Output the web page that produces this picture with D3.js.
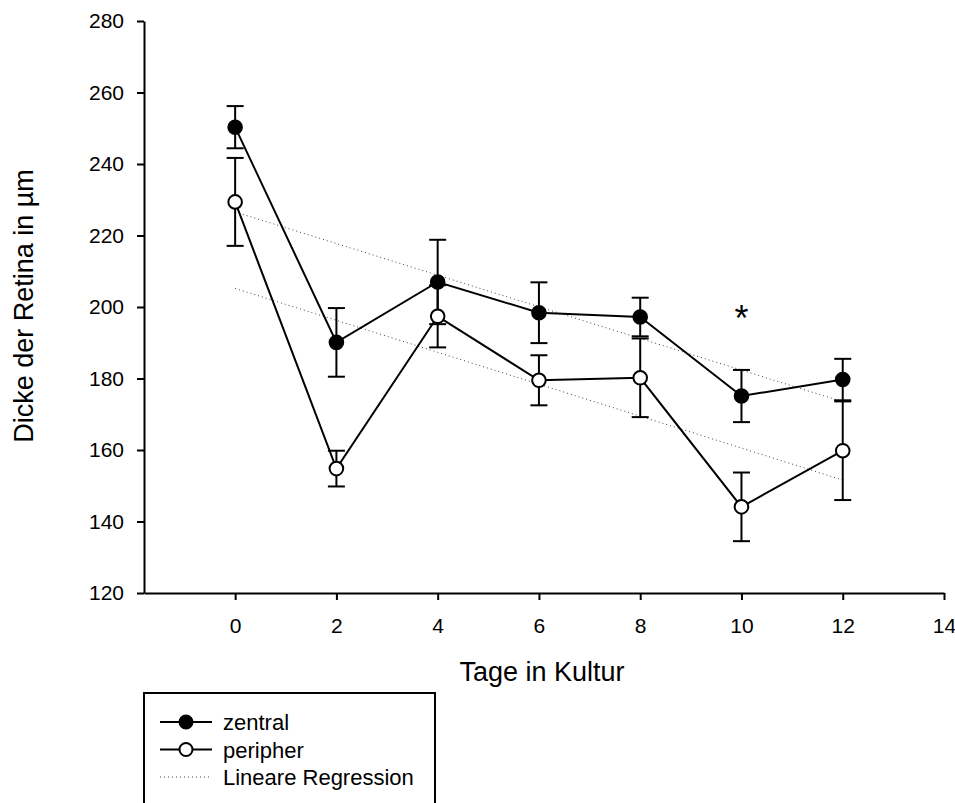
<!DOCTYPE html>
<html>
<head>
<meta charset="utf-8">
<script src="https://cdn.jsdelivr.net/npm/d3@7"></script>
<style>
body { margin: 0; background: #fff; }
text { font-family: "Liberation Sans", Arial, sans-serif; fill: #000; }
</style>
</head>
<body>
<script>
var width = 955;
var height = 803;

// values
var days = [0, 2, 4, 6, 8, 10, 12];
var zentral = [250.3, 190.1, 207.0, 198.4, 197.2, 175.1, 179.7];
var zentralErr = [5.9, 9.6, 11.8, 8.5, 5.4, 7.3, 5.8];
var peripher = [229.4, 154.8, 197.4, 179.5, 180.2, 144.1, 159.8];
var peripherErr = [12.3, 5.0, 8.7, 7.0, 11.0, 9.6, 13.8];
// regression lines, start (day 0) and end (day 12)
var regDays = [0, 12];
var regZentral = [226.6, 173.5];
var regPeripher = [205.2, 151.6];
var xTicks = [0, 2, 4, 6, 8, 10, 12, 14];
var yTicks = [120, 140, 160, 180, 200, 220, 240, 260, 280];
var starDay = 10, starValue = 199.3;

var svg = d3.select("body").append("svg")
    .attr("width", width)
    .attr("height", height);

var x = d3.scaleLinear().domain([-1.8, 14]).range([144, 944]);
var y = d3.scaleLinear().domain([120, 280]).range([593, 21]);

// axes
var xAxis = svg.append("g")
    .attr("transform", "translate(0,593)")
    .call(d3.axisBottom(x).tickValues(xTicks).tickSize(7).tickSizeOuter(0).tickPadding(18));
var yAxis = svg.append("g")
    .attr("transform", "translate(144,0)")
    .call(d3.axisLeft(y).tickValues(yTicks).tickSize(7).tickSizeOuter(0).tickPadding(13));

[xAxis, yAxis].forEach(function(a) {
    a.selectAll("path, line").attr("stroke", "#000").attr("stroke-width", 2);
    a.selectAll("text").style("font-size", "21px").attr("fill", "#000");
});

svg.append("text")
    .attr("x", 542).attr("y", 681)
    .attr("text-anchor", "middle")
    .style("font-size", "27px")
    .text("Tage in Kultur");

svg.append("text")
    .attr("transform", "translate(33,306) rotate(-90)")
    .attr("text-anchor", "middle")
    .style("font-size", "27px")
    .text("Dicke der Retina in µm");

// regression lines
[regZentral, regPeripher].forEach(function(r) {
    svg.append("path")
        .datum(regDays.map(function(d, i) { return [d, r[i]]; }))
        .attr("fill", "none")
        .attr("stroke", "#444")
        .attr("stroke-width", 1)
        .attr("stroke-dasharray", "1,3")
        .attr("d", d3.line().x(function(d) { return x(d[0]); }).y(function(d) { return y(d[1]); }));
});

var line = d3.line()
    .x(function(d) { return x(d[0]); })
    .y(function(d) { return y(d[1]); });

function drawSeries(vals, errs) {
    var pts = days.map(function(d, i) { return [d, vals[i], errs[i]]; });
    svg.append("path")
        .datum(pts)
        .attr("fill", "none")
        .attr("stroke", "#000")
        .attr("stroke-width", 2)
        .attr("d", line);

    var eb = svg.append("g").attr("stroke", "#000").attr("stroke-width", 2);
    pts.forEach(function(p) {
        var cx = x(p[0]);
        eb.append("line")
            .attr("x1", cx).attr("x2", cx)
            .attr("y1", y(p[1] - p[2])).attr("y2", y(p[1] + p[2]));
        [p[1] - p[2], p[1] + p[2]].forEach(function(v) {
            eb.append("line")
                .attr("x1", cx - 8.5).attr("x2", cx + 8.5)
                .attr("y1", y(v)).attr("y2", y(v));
        });
    });
    return pts;
}

var zPts = drawSeries(zentral, zentralErr);
var pPts = drawSeries(peripher, peripherErr);

function drawMarkers(pts, fill) {
    svg.append("g").selectAll("circle")
        .data(pts)
        .enter().append("circle")
        .attr("cx", function(d) { return x(d[0]); })
        .attr("cy", function(d) { return y(d[1]); })
        .attr("r", 6.8)
        .attr("fill", fill)
        .attr("stroke", "#000")
        .attr("stroke-width", 2);
}
drawMarkers(zPts, "#000");
drawMarkers(pPts, "#fff");

// significance star
svg.append("text")
    .attr("x", x(starDay)).attr("y", y(starValue) + 21)
    .attr("text-anchor", "middle")
    .style("font-size", "36px")
    .text("*");

// legend
var legend = svg.append("g");
legend.append("rect")
    .attr("x", 144).attr("y", 693)
    .attr("width", 291).attr("height", 130)
    .attr("fill", "none")
    .attr("stroke", "#000")
    .attr("stroke-width", 2);

var legItems = [
    { label: "zentral", fill: "#000", dotted: false },
    { label: "peripher", fill: "#fff", dotted: false },
    { label: "Lineare Regression", fill: null, dotted: true }
];
legItems.forEach(function(d, i) {
    var ly = 722 + i * 27.5;
    legend.append("line")
        .attr("x1", 160).attr("x2", 212)
        .attr("y1", ly).attr("y2", ly)
        .attr("stroke", d.dotted ? "#444" : "#000")
        .attr("stroke-width", d.dotted ? 1 : 2)
        .attr("stroke-dasharray", d.dotted ? "1,3" : null);
    if (d.fill) {
        legend.append("circle")
            .attr("cx", 186).attr("cy", ly).attr("r", 6.5)
            .attr("fill", d.fill)
            .attr("stroke", "#000")
            .attr("stroke-width", 2);
    }
    legend.append("text")
        .attr("x", 223).attr("y", ly + 8)
        .style("font-size", "22px")
        .text(d.label);
});
</script>
</body>
</html>
